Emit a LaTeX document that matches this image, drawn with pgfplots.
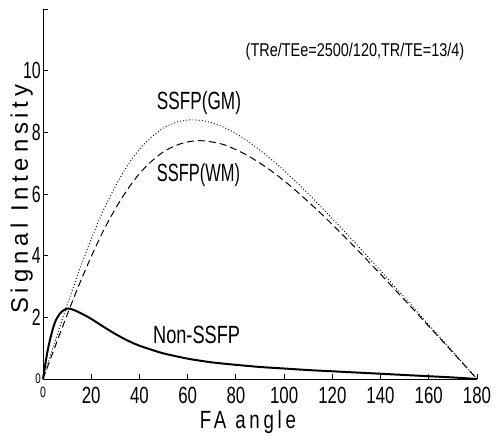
\documentclass[border=0pt]{standalone}
\usepackage{fontspec}
\setmainfont{Liberation Sans}
\newfontfamily\labelfont{Liberation Sans}[LetterSpace=20]
\usepackage{graphicx}
\usepackage{pgfplots}
\pgfplotsset{compat=1.18}
% condensed text: horizontal squeeze only
\newcommand{\cnd}[2]{\scalebox{#1}[1]{#2}}

\begin{document}
\begin{tikzpicture}
\begin{axis}[
    scale only axis,
    width=434bp, height=370bp,
    xmin=0, xmax=180, ymin=0, ymax=12,
    axis lines=left,
    axis line style={-, line width=0.9pt},
    tick align=inside,
    major tick length=5bp,
    tick style={black, line width=0.8pt},
    xtick={0,20,...,180},
    xticklabels={{\fontsize{15}{15}\selectfont\cnd{.7}{0}},\cnd{.72}{20},\cnd{.72}{40},\cnd{.72}{60},\cnd{.72}{80},\cnd{.72}{100},\cnd{.72}{120},\cnd{.72}{140},\cnd{.72}{160},\cnd{.72}{180}},
    ytick={0,2,...,10},
    extra y ticks={12}, extra y tick labels={},
    yticklabels={{\fontsize{14}{14}\selectfont\cnd{.7}{0}},\cnd{.68}{2},\cnd{.68}{4},\cnd{.68}{6},\cnd{.68}{8},\cnd{.68}{10}},
    ticklabel style={font=\fontsize{23.5}{23.5}\selectfont},
    xticklabel style={anchor=north, inner sep=0pt, yshift=-8bp},
    yticklabel style={anchor=east, inner sep=0pt, xshift=-2bp},
    xlabel={\labelfont\fontsize{25}{25}\selectfont\cnd{.75}{FA angle}},
    ylabel={\labelfont\fontsize{24}{24}\selectfont Signal Intensity},
    every axis x label/.style={at={(axis description cs:0.472,-0.135)}, anchor=base},
    every axis y label/.style={at={(axis description cs:-0.0346,0.486)}, rotate=90, anchor=base},
    clip=false,
]
% SSFP (GM), dotted
\addplot[black, line width=1pt, dash pattern=on 0.9bp off 2.2bp, smooth] coordinates {
(0,0) (2,0.49) (5,1.22) (10,2.40) (15,3.51) (20,4.54) (25,5.46) (30,6.25)
(35,6.92) (40,7.45) (45,7.85) (50,8.14) (55,8.32) (60,8.40) (65,8.39)
(70,8.31) (75,8.16) (80,7.96) (85,7.71) (90,7.42) (95,7.10) (100,6.76)
(105,6.39) (110,6.01) (115,5.61) (120,5.20) (125,4.79) (130,4.37)
(135,3.94) (140,3.51) (145,3.07) (150,2.64) (155,2.20) (160,1.76)
(165,1.32) (170,0.88) (175,0.44) (180,0)
};
% SSFP (WM), dashed
\addplot[black, line width=1pt, dash pattern=on 7bp off 4bp, smooth] coordinates {
(0,0) (2,0.42) (5,1.05) (10,2.08) (15,3.06) (20,3.97) (25,4.80) (30,5.52)
(35,6.14) (40,6.66) (45,7.06) (50,7.37) (55,7.57) (60,7.69) (65,7.73)
(70,7.69) (75,7.60) (80,7.44) (85,7.24) (90,7.00) (95,6.73) (100,6.43)
(105,6.10) (110,5.75) (115,5.39) (120,5.01) (125,4.62) (130,4.22)
(135,3.81) (140,3.40) (145,2.98) (150,2.56) (155,2.14) (160,1.71)
(165,1.29) (170,0.86) (175,0.43) (180,0)
};
% Non-SSFP, solid
\addplot[black, line width=2pt, smooth] coordinates {
(0,0) (1,0.5) (2,0.95) (3,1.3) (4,1.6) (5,1.85) (6,2.0) (7,2.12) (8,2.2)
(9,2.25) (10,2.28) (11,2.28) (12,2.26) (14,2.2) (16,2.12) (18,2.04)
(20,1.95) (25,1.7) (30,1.46) (35,1.25) (40,1.08) (45,0.95) (50,0.83)
(60,0.66) (70,0.54) (80,0.46) (90,0.39) (100,0.34) (110,0.29) (120,0.25)
(130,0.21) (140,0.17) (150,0.13) (160,0.09) (170,0.05) (180,0)
};
\node[anchor=base, font=\fontsize{25}{25}\selectfont] at (axis cs:64.7,8.73) {\cnd{.69}{SSFP(GM)}};
\node[anchor=base, font=\fontsize{25}{25}\selectfont] at (axis cs:64.5,6.41) {\cnd{.66}{SSFP(WM)}};
\node[anchor=base, font=\fontsize{25}{25}\selectfont] at (axis cs:63.7,1.16) {\cnd{.73}{Non-SSFP}};
\node[anchor=base, font=\fontsize{18.6}{18.6}\selectfont] at (axis cs:129.4,10.46) {\cnd{.78}{(TRe/TEe=2500/120,TR/TE=13/4)}};
\end{axis}
\pgfresetboundingbox
\path (current axis.south west) ++(-43bp,-60bp) rectangle ([xshift=18bp,yshift=9bp]current axis.north east);
\end{tikzpicture}
\end{document}
